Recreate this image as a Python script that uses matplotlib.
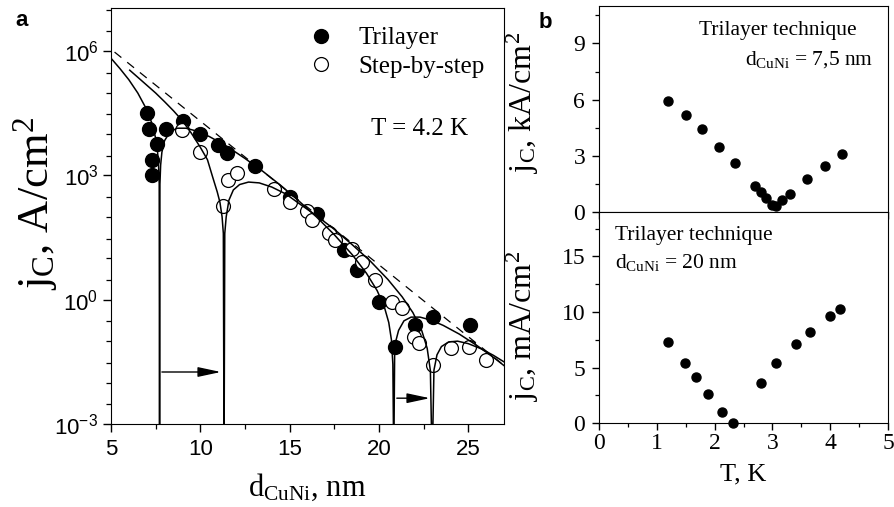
import numpy as np
import matplotlib
matplotlib.use('Agg')
import matplotlib.pyplot as plt
from matplotlib.ticker import MultipleLocator, FixedLocator, LogLocator, LogFormatterSciNotation, NullFormatter

plt.rcParams['font.family'] = 'Liberation Serif'
plt.rcParams['mathtext.fontset'] = 'custom'
plt.rcParams['mathtext.rm'] = 'Liberation Serif'
plt.rcParams['mathtext.it'] = 'Liberation Serif:italic'

# ---- panel a: measured points ----
tri_d = [7.04, 7.13, 7.58, 7.32, 7.32, 8.07, 9.04, 9.97, 11.0, 11.5, 13.07, 15.03,
         16.55, 18.02, 18.77, 19.98, 20.92, 22.0, 23.01, 25.1]
tri_jc = [3.2e4, 1.35e4, 5.6e3, 2.3e3, 1.0e3, 1.3e4, 2.1e4, 9.8e3, 5.4e3, 3.5e3, 1.65e3, 3.0e2,
          1.2e2, 15.5, 5.1, 0.87, 0.072, 0.25, 0.38, 0.24]

sbs_d = [8.98, 10.01, 11.26, 11.54, 12.05, 14.1, 15.03, 15.97, 16.28, 17.18, 17.56, 18.49,
         19.05, 19.8, 20.73, 21.3, 21.95, 22.23, 23.0, 24.04, 25.03, 26.02]
sbs_jc = [1.23e4, 3.7e3, 1.8e2, 7.6e2, 1.17e3, 4.6e2, 2.3e2, 1.38e2, 85, 40, 27, 17,
          8.1, 2.95, 0.87, 0.63, 0.126, 0.089, 0.027, 0.068, 0.074, 0.036]

# ---- panel a: theory curves (log10 of jc) ----
fit_tri_d = [5.0, 5.5, 6.0, 6.5, 7.0, 7.3, 7.5, 7.6, 7.66, 7.70, 7.72, 7.74, 7.78, 7.85, 8.0,
             8.3, 8.7, 9.2, 9.8, 10.5, 11.5, 12.5, 13.5, 14.5, 15.5, 16.5, 17.5, 18.5, 19.3,
             19.9, 20.3, 20.55, 20.7, 20.78, 20.83, 20.88, 20.95, 21.1, 21.4, 21.8, 22.3,
             22.9, 23.6, 24.5, 25.5, 26.5, 27.0]
fit_tri_log = [5.83, 5.58, 5.31, 4.99, 4.59, 4.25, 3.90, 3.61, 3.28, 2.81, -4, 2.79, 3.25, 3.56, 3.84,
               4.05, 4.14, 4.14, 4.07, 3.94, 3.70, 3.41, 3.10, 2.76, 2.39, 2.00, 1.57, 1.09, 0.64,
               0.22, -0.17, -0.55, -0.97, -1.56, -4, -1.30, -0.99, -0.74, -0.51, -0.42, -0.42,
               -0.49, -0.62, -0.83, -1.11, -1.42, -1.59]

fit_sbs_d = [6.05, 6.5, 7.0, 7.5, 8.0, 8.5, 9.0, 9.5, 10.0, 10.4, 10.7, 10.95, 11.1, 11.22, 11.29,
             11.33, 11.37, 11.45, 11.6, 11.85, 12.2, 12.7, 13.3, 14.0, 14.8, 15.6, 16.5, 17.5,
             18.5, 19.5, 20.5, 21.3, 21.9, 22.4, 22.7, 22.88, 22.98, 23.08, 23.25, 23.5, 23.9,
             24.4, 25.0, 25.7, 26.4, 27.0]
fit_sbs_log = [5.54, 5.37, 5.18, 4.99, 4.78, 4.56, 4.32, 4.02, 3.68, 3.38, 2.95, 2.60, 2.35, 2.00, 1.60,
               -4, 1.60, 2.00, 2.40, 2.65, 2.78, 2.84, 2.82, 2.72, 2.55, 2.30, 2.03, 1.70,
               1.33, 0.94, 0.49, 0.07, -0.31, -0.75, -1.17, -1.71, -4, -1.70, -1.33, -1.13, -1.02,
               -1.00, -1.06, -1.18, -1.34, -1.50]

envelope_d = [5.2, 27.0]
envelope_jc = [9.5e5, 0.026]

# arrows: (start d, end d, jc level)
shift_arrows = [(7.85, 11.15, 0.018), (21.0, 22.85, 0.0042)]

# ---- panel b ----
T_top = [1.20, 1.50, 1.79, 2.08, 2.35, 2.69, 2.80, 2.89, 3.00, 3.07, 3.17, 3.30, 3.60, 3.91, 4.21]
jc_top = [5.94, 5.19, 4.45, 3.49, 2.60, 1.40, 1.05, 0.73, 0.37, 0.32, 0.64, 0.96, 1.74, 2.47, 3.08]

T_bot = [1.20, 1.49, 1.68, 1.89, 2.13, 2.31, 2.80, 3.07, 3.40, 3.65, 4.00, 4.17]
jc_bot = [7.28, 5.45, 4.19, 2.63, 0.99, 0.0, 3.60, 5.45, 7.13, 8.24, 9.65, 10.25]

fig = plt.figure(figsize=(8.95, 5.07), dpi=100)

# ================= panel a =================
ax = fig.add_axes([0.124, 0.1637, 0.4391, 0.8205])
ax.set_yscale('log')
ax.plot(tri_d, tri_jc, 'o', color='black', ms=10, zorder=2, label='Trilayer')
ax.plot(sbs_d, sbs_jc, 'o', mfc='white', mec='black', mew=0.9, ms=10, zorder=3, label='Step-by-step')
ax.plot(fit_tri_d, 10.0 ** np.array(fit_tri_log), color='black', lw=1.1, zorder=4)
ax.plot(fit_sbs_d, 10.0 ** np.array(fit_sbs_log), color='black', lw=1.1, zorder=4)
ax.plot(envelope_d, envelope_jc, color='black', lw=0.9, dashes=(7, 6), zorder=4)

for d0, d1, level in shift_arrows:
    ax.annotate('', xy=(d1, level), xytext=(d0, level),
                arrowprops=dict(arrowstyle='-|>,head_length=1.4,head_width=0.3',
                                color='black', lw=1.0, shrinkA=0, shrinkB=0), zorder=5)

ax.set_xlim(5, 27)
ax.set_ylim(1e-3, 1.1e7)
ax.xaxis.set_major_locator(MultipleLocator(5))
ax.xaxis.set_minor_locator(MultipleLocator(2.5))
ax.yaxis.set_major_locator(FixedLocator([1e-3, 1e0, 1e3, 1e6]))
ax.yaxis.set_major_formatter(LogFormatterSciNotation())
ax.yaxis.set_minor_locator(LogLocator(base=10, subs=(1.0, 3.0), numticks=50))
ax.yaxis.set_minor_formatter(NullFormatter())
ax.tick_params(which='both', direction='out', top=False, right=False,
               labelsize=16, labelfontfamily='Liberation Sans')
ax.tick_params(which='major', length=6, width=1.0)
ax.tick_params(which='minor', length=3.5, width=0.9)
ax.tick_params(axis='x', pad=5)
ax.tick_params(axis='y', pad=3)

ax.set_xlabel(r'$\mathregular{d_{CuNi}}$, nm', fontsize=22)
ax.xaxis.set_label_coords(0.5, -0.115)
ax.set_ylabel(r'$\mathregular{j_C}$, A/cm$^2$', fontsize=32)
ax.yaxis.set_label_coords(-0.13, 0.53)

ax.legend(loc='upper left', bbox_to_anchor=(0.47, 0.985), frameon=False, fontsize=18,
          numpoints=1, handlelength=1.0, handletextpad=1.0, borderpad=0, labelspacing=0.25)
ax.text(0.786, 0.709, 'T = 4.2 K', transform=ax.transAxes, fontsize=18, ha='center', va='center')

# ================= panel b =================
axb1 = fig.add_axes([0.6693, 0.5819, 0.3229, 0.4063])
axb2 = fig.add_axes([0.6693, 0.1651, 0.3229, 0.4168])

axb1.plot(T_top, jc_top, 'o', color='black', ms=6.5, clip_on=False)
axb2.plot(T_bot, jc_bot, 'o', color='black', ms=6.5, clip_on=False)

axb1.set_xlim(0, 5)
axb1.set_ylim(0, 11)
axb1.yaxis.set_major_locator(MultipleLocator(3))
axb1.yaxis.set_minor_locator(MultipleLocator(1.5))
axb2.set_xlim(0, 5)
axb2.set_ylim(0, 19)
axb2.yaxis.set_major_locator(MultipleLocator(5))
axb2.yaxis.set_minor_locator(MultipleLocator(2.5))
for a in (axb1, axb2):
    a.xaxis.set_major_locator(MultipleLocator(1))
    a.xaxis.set_minor_locator(MultipleLocator(0.5))
    a.tick_params(which='both', direction='out', top=False, right=False, labelsize=17)
    a.tick_params(which='major', length=5, width=1.0)
    a.tick_params(which='minor', length=3, width=0.9)
    a.tick_params(axis='y', pad=5)
    a.tick_params(axis='x', pad=2)
axb1.tick_params(labelbottom=False)

axb1.set_ylabel(r'$\mathregular{j_C}$, kA/cm$^2$', fontsize=23)
axb1.yaxis.set_label_coords(-0.2, 0.53)
axb2.set_ylabel(r'$\mathregular{j_C}$, mA/cm$^2$', fontsize=23)
axb2.yaxis.set_label_coords(-0.2, 0.46)
axb2.set_xlabel('T, K', fontsize=19)
axb2.xaxis.set_label_coords(0.498, -0.19)

axb1.text(0.893, 0.883, 'Trilayer technique', transform=axb1.transAxes, fontsize=15.5,
          ha='right', va='center')
axb1.text(0.948, 0.738, r'$\mathregular{d_{CuNi}}$ = 7,5 nm', transform=axb1.transAxes, fontsize=15.5,
          ha='right', va='center')
axb2.text(0.055, 0.891, 'Trilayer technique', transform=axb2.transAxes, fontsize=15.5,
          ha='left', va='center')
axb2.text(0.055, 0.759, r'$\mathregular{d_{CuNi}}$ = 20 nm', transform=axb2.transAxes, fontsize=15.5,
          ha='left', va='center')

fig.text(22 / 895, 1 - 20 / 507, 'a', fontsize=16, fontweight='bold', family='Liberation Sans',
         ha='center', va='center')
fig.text(545 / 895, 1 - 22 / 507, 'b', fontsize=16, fontweight='bold', family='Liberation Sans',
         ha='center', va='center')

fig.savefig('out.png', dpi=100)
